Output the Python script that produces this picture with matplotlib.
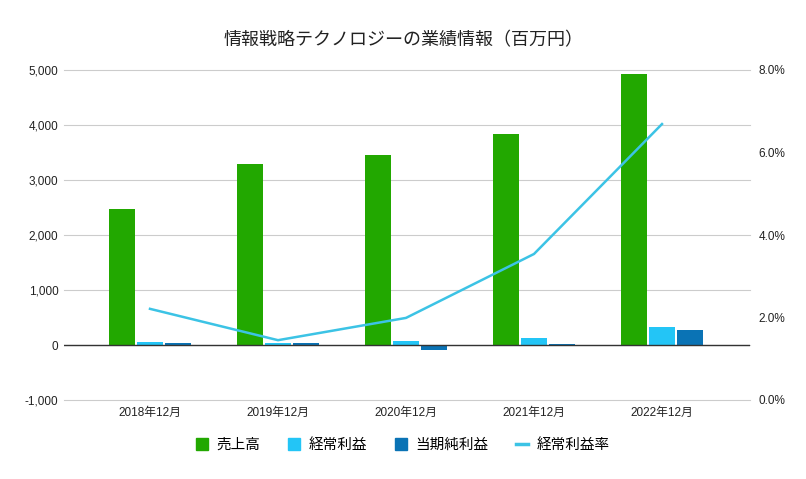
import numpy as np
import matplotlib.pyplot as plt
from matplotlib.lines import Line2D
from matplotlib.patches import Patch

plt.rcParams['font.family'] = ['Liberation Sans', 'Noto Sans CJK JP', 'DejaVu Sans']

years = ["2018年12月", "2019年12月", "2020年12月", "2021年12月", "2022年12月"]
sales = [2470, 3290, 3460, 3840, 4930]          # 売上高
ordinary = [55, 40, 70, 130, 330]               # 経常利益
net = [35, 40, -90, 15, 275]                    # 当期純利益
margin = [2.21, 1.45, 1.99, 3.54, 6.69]         # 経常利益率 (%)

c_sales = "#22a800"
c_ord = "#23c5f6"
c_net = "#0a73b5"
c_line = "#3cc3e5"

fig = plt.figure(figsize=(8.06, 4.79), dpi=100)
ax = fig.add_axes([64/806, 79/479, (750-64)/806, 330/479])

x = np.arange(len(years))
w = 0.203
step = 0.219
ax.bar(x - step, sales, w, color=c_sales, zorder=3)
ax.bar(x, ordinary, w, color=c_ord, zorder=3)
ax.bar(x + step, net, w, color=c_net, zorder=3)

ax.set_ylim(-1000, 5000)
ax.set_yticks(range(-1000, 5001, 1000))
ax.set_yticklabels([f"{v:,}" for v in range(-1000, 5001, 1000)])
ax.set_xlim(-0.5 - 22/128, 4.5 + 24/128)
ax.set_xticks(x)
ax.set_xticklabels(years)
ax.grid(axis='y', color='#cccccc', linewidth=0.8, zorder=0)
for gl in ax.get_ygridlines():
    gl.set_clip_on(False)
ax.axhline(0, color='#333333', linewidth=1, zorder=4)
for s in ax.spines.values():
    s.set_visible(False)
ax.tick_params(length=0, labelsize=8.5, colors='#222222')
ax.tick_params(axis='y', pad=4)
ax.tick_params(axis='x', pad=5)

ax2 = ax.twinx()
ax2.plot(x, margin, color=c_line, linewidth=1.8, zorder=5)
ax2.set_ylim(0, 8)
ax2.set_yticks([0, 2, 4, 6, 8])
ax2.set_yticklabels([f"{v:.1f}%" for v in [0, 2, 4, 6, 8]])
for s in ax2.spines.values():
    s.set_visible(False)
ax2.tick_params(length=0, labelsize=8.5, colors='#222222', pad=6)

fig.text(0.5, 1 - 40/479, "情報戦略テクノロジーの業績情報（百万円）", ha='center', va='center',
         fontsize=13, color='#222222', family=['Noto Sans CJK JP'])

handles = [Patch(color=c_sales), Patch(color=c_ord), Patch(color=c_net),
           Line2D([0], [0], color=c_line, linewidth=2.5)]
labels = ["売上高", "経常利益", "当期純利益", "経常利益率"]
fig.legend(handles, labels, loc='center', bbox_to_anchor=(0.5, 1 - 445/479), ncol=4,
           frameon=False, handlelength=0.8, handleheight=0.8,
           handletextpad=0.6, columnspacing=1.9,
           prop={'size': 10.5, 'style': 'italic', 'family': ['Noto Sans CJK JP']})

fig.savefig("out.png", dpi=100)
